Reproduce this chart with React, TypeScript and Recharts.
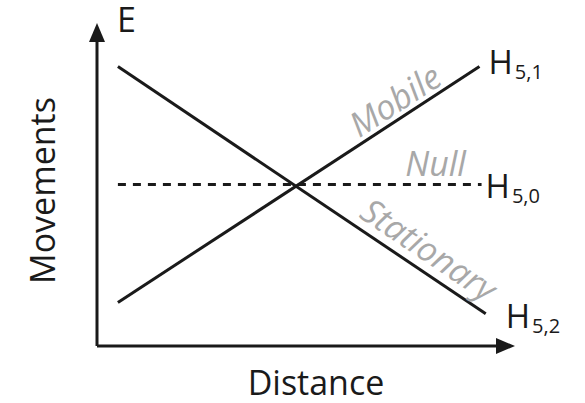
import { LineChart, Line, XAxis, YAxis, ReferenceLine, ReferenceDot, LabelList } from "recharts";

// line endpoints (domain 0..10 on both axes)
const mobile = [
  { x: 0.5, y: 1.35 },
  { x: 9.15, y: 8.65, tag: "5,1" },
];
const stationary = [
  { x: 0.5, y: 8.65 },
  { x: 9.3, y: 1.0, tag: "5,2" },
];
const nullLine = [
  { x: 0.5, y: 5.0 },
  { x: 9.2, y: 5.0, tag: "5,0" },
];

const annotations = [
  { text: "Mobile", x: 7.12, y: 7.62, angle: -33 },
  { text: "Null", x: 8.1, y: 5.67, angle: 0 },
  { text: "Stationary", x: 7.95, y: 3.0, angle: 34 },
];

const FONT = "'Open Sans', 'Noto Sans', sans-serif";
const INK = "#1a1a1a";
const GRAY = "#a8a8a8";

// where each H label sits relative to the end of its line
const tagOffset: Record<string, { dx: number; dy: number }> = {
  "5,1": { dx: 9, dy: 7 },
  "5,0": { dx: 4, dy: 13 },
  "5,2": { dx: 20, dy: 14 },
};

function EndTag(props: any) {
  const { x, y, value } = props;
  if (!value) return null;
  const off = tagOffset[value] ?? { dx: 6, dy: 8 };
  return (
    <text x={x + off.dx} y={y + off.dy} fill={INK} fontFamily={FONT} fontSize={33}>
      H
      <tspan fontSize={20} dx={2} dy={5}>
        {value}
      </tspan>
    </text>
  );
}

function arrowShape(label?: string) {
  return (props: any) => {
    const { x1, y1, x2, y2 } = props;
    const len = Math.hypot(x2 - x1, y2 - y1) || 1;
    const ux = (x2 - x1) / len;
    const uy = (y2 - y1) / len;
    const head = 19;
    const half = 8;
    const bx = x2 - ux * head;
    const by = y2 - uy * head;
    const pts = `${x2},${y2} ${bx - uy * half},${by + ux * half} ${bx + uy * half},${by - ux * half}`;
    return (
      <g>
        <line x1={x1} y1={y1} x2={bx + ux * 2} y2={by + uy * 2} stroke={INK} strokeWidth={3} />
        <polygon points={pts} fill={INK} />
        {label && (
          <text x={x2 + 20} y={y2 + 9} fill={INK} fontFamily={FONT} fontSize={34}>
            {label}
          </text>
        )}
      </g>
    );
  };
}

function annotationShape(text: string, angle: number) {
  return (props: any) => {
    const { cx, cy } = props;
    return (
      <text
        x={cx}
        y={cy}
        fill={GRAY}
        fontFamily={FONT}
        fontStyle="italic"
        fontSize={34}
        textAnchor="middle"
        dominantBaseline="central"
        transform={`rotate(${angle} ${cx} ${cy})`}
      >
        {text}
      </text>
    );
  };
}

function XTitle(props: any) {
  const { viewBox } = props;
  return (
    <text
      x={viewBox.x + viewBox.width / 2 + 10}
      y={viewBox.y + 49}
      fill={INK}
      fontFamily={FONT}
      fontSize={34}
      textAnchor="middle"
    >
      Distance
    </text>
  );
}

function YTitle(props: any) {
  const { viewBox } = props;
  const cx = viewBox.x + 55;
  const cy = viewBox.y + viewBox.height / 2 + 6;
  return (
    <text
      x={cx}
      y={cy}
      fill={INK}
      fontFamily={FONT}
      fontSize={34}
      textAnchor="middle"
      transform={`rotate(-90 ${cx} ${cy})`}
    >
      Movements
    </text>
  );
}

export default function App() {
  return (
    <>
      <style>{"body{margin:0;background:#fff}"}</style>
      <LineChart width={585} height={403} margin={{ top: 23, right: 70, bottom: 0, left: 0 }}>
        <XAxis
          type="number"
          dataKey="x"
          domain={[0, 10]}
          allowDataOverflow
          tick={false}
          tickLine={false}
          axisLine={false}
          height={57}
          label={{ content: XTitle }}
        />
        <YAxis
          type="number"
          dataKey="y"
          domain={[0, 10]}
          allowDataOverflow
          tick={false}
          tickLine={false}
          axisLine={false}
          width={97}
          label={{ content: YTitle }}
        />
        <ReferenceLine
          segment={[
            { x: 0, y: 0 },
            { x: 10, y: 0 },
          ]}
          shape={arrowShape()}
          ifOverflow="visible"
        />
        <ReferenceLine
          segment={[
            { x: 0, y: 0 },
            { x: 0, y: 10 },
          ]}
          shape={arrowShape("E")}
          ifOverflow="visible"
        />
        <Line
          data={nullLine}
          dataKey="y"
          type="linear"
          stroke={INK}
          strokeWidth={3}
          strokeDasharray="8 7"
          dot={false}
          activeDot={false}
          isAnimationActive={false}
        >
          <LabelList dataKey="tag" content={EndTag} />
        </Line>
        <Line
          data={mobile}
          dataKey="y"
          type="linear"
          stroke={INK}
          strokeWidth={3}
          dot={false}
          activeDot={false}
          isAnimationActive={false}
        >
          <LabelList dataKey="tag" content={EndTag} />
        </Line>
        <Line
          data={stationary}
          dataKey="y"
          type="linear"
          stroke={INK}
          strokeWidth={3}
          dot={false}
          activeDot={false}
          isAnimationActive={false}
        >
          <LabelList dataKey="tag" content={EndTag} />
        </Line>
        {annotations.map((a) => (
          <ReferenceDot
            key={a.text}
            x={a.x}
            y={a.y}
            r={0}
            ifOverflow="visible"
            shape={annotationShape(a.text, a.angle)}
          />
        ))}
      </LineChart>
    </>
  );
}
